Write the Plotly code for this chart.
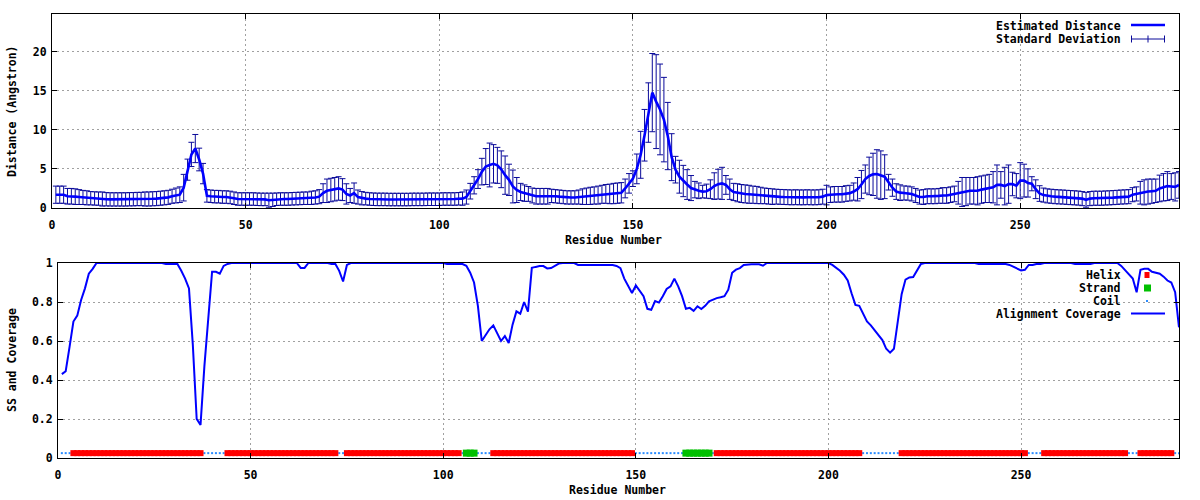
import plotly.graph_objects as go

# ---------------- data ----------------
residues = list(range(1, 292))

distance = [
    1.7, 1.7, 1.7, 1.5, 1.5, 1.45, 1.4, 1.35, 1.3, 1.25,
    1.22, 1.2, 1.15, 1.12, 1.1, 1.1, 1.1, 1.1, 1.1, 1.12,
    1.12, 1.15, 1.15, 1.15, 1.15, 1.18, 1.2, 1.25, 1.3, 1.36,
    1.5, 1.6, 1.7, 2.6, 4.9, 6.85, 7.6, 6.2, 4.4, 1.55,
    1.5, 1.45, 1.45, 1.4, 1.4, 1.35, 1.25, 1.15, 1.15, 1.15,
    1.15, 1.15, 1.12, 1.1, 1.1, 1.0, 1.05, 1.12, 1.15, 1.15,
    1.15, 1.18, 1.2, 1.22, 1.25, 1.25, 1.3, 1.35, 1.45, 1.9,
    2.2, 2.3, 2.4, 2.5, 2.35, 1.8, 1.6, 1.9, 1.4, 1.25,
    1.2, 1.15, 1.12, 1.1, 1.1, 1.1, 1.08, 1.08, 1.08, 1.08,
    1.08, 1.08, 1.1, 1.1, 1.1, 1.1, 1.12, 1.12, 1.12, 1.12,
    1.15, 1.15, 1.15, 1.15, 1.18, 1.2, 1.4, 2.15, 2.9, 3.7,
    4.65, 5.3, 5.5, 5.65, 5.45, 4.95, 4.2, 3.6, 2.75, 2.3,
    2.05, 1.9, 1.8, 1.6, 1.5, 1.5, 1.5, 1.5, 1.55, 1.5,
    1.45, 1.4, 1.35, 1.35, 1.35, 1.4, 1.45, 1.5, 1.55, 1.6,
    1.65, 1.75, 1.8, 1.8, 1.85, 1.9, 1.95, 2.5, 3.15, 3.75,
    5.0, 6.8, 9.3, 12.2, 14.75, 13.6, 12.6, 11.3, 9.2, 6.5,
    4.9, 4.0, 3.45, 3.0, 2.55, 2.35, 2.2, 2.1, 2.15, 2.4,
    2.8, 3.05, 3.15, 2.95, 2.4, 2.05, 1.95, 1.85, 1.8, 1.75,
    1.7, 1.66, 1.6, 1.55, 1.5, 1.45, 1.45, 1.42, 1.4, 1.38,
    1.36, 1.38, 1.36, 1.36, 1.38, 1.36, 1.36, 1.38, 1.45, 1.65,
    1.7, 1.75, 1.75, 1.75, 1.85, 1.9, 2.1, 2.4, 3.0, 3.7,
    4.1, 4.3, 4.35, 4.2, 4.0, 3.3, 2.6, 2.1, 1.96, 1.92,
    1.9, 1.8, 1.6, 1.4, 1.4, 1.5, 1.5, 1.5, 1.55, 1.6,
    1.6, 1.7, 1.8, 1.95, 2.05, 2.1, 2.2, 2.2, 2.2, 2.35,
    2.45, 2.5, 2.65, 2.95, 2.95, 2.8, 3.05, 3.07, 2.85, 3.5,
    3.5, 3.2, 3.1, 2.4, 1.85, 1.65, 1.55, 1.5, 1.45, 1.42,
    1.4, 1.36, 1.33, 1.3, 1.27, 1.2, 1.05, 1.2, 1.25, 1.25,
    1.25, 1.28, 1.3, 1.33, 1.36, 1.4, 1.42, 1.45, 1.7, 1.8,
    1.95, 2.0, 2.1, 2.15, 2.2, 2.5, 2.65, 2.8, 2.75, 2.7, 2.95,
]

std_dev = [
    1.1, 1.1, 1.1, 1.0, 1.0, 1.0, 0.95, 0.9, 0.9, 0.85,
    0.85, 0.85, 0.9, 0.85, 0.85, 0.85, 0.85, 0.85, 0.85, 0.85,
    0.85, 0.85, 0.85, 0.9, 0.9, 0.9, 0.9, 0.9, 0.9, 0.9,
    0.9, 0.95, 1.0, 1.7, 1.35, 1.55, 1.8, 1.45, 1.3, 0.8,
    0.8, 0.8, 0.8, 0.8, 0.8, 0.8, 0.8, 0.8, 0.8, 0.8,
    0.8, 0.8, 0.8, 0.8, 0.8, 0.9, 0.85, 0.8, 0.8, 0.8,
    0.8, 0.8, 0.8, 0.8, 0.8, 0.8, 0.85, 0.85, 0.9, 1.2,
    1.5, 1.5, 1.5, 1.5, 1.4, 1.3, 0.9, 1.3, 0.9, 0.85,
    0.8, 0.8, 0.8, 0.8, 0.8, 0.8, 0.8, 0.8, 0.8, 0.8,
    0.8, 0.8, 0.8, 0.8, 0.8, 0.8, 0.8, 0.8, 0.8, 0.8,
    0.8, 0.8, 0.8, 0.8, 0.8, 0.85, 0.9, 1.0, 1.1, 1.2,
    1.7, 2.3, 2.8, 2.45, 2.3, 2.35, 2.45, 2.0, 2.1, 1.6,
    1.1, 1.05, 0.95, 0.95, 1.0, 1.0, 1.0, 1.0, 0.85, 0.85,
    0.85, 0.85, 0.85, 0.85, 0.85, 0.9, 1.0, 1.05, 1.1, 1.1,
    1.15, 1.15, 1.2, 1.25, 1.3, 1.3, 1.3, 1.2, 1.25, 1.0,
    1.9, 3.0, 3.3, 3.8, 5.0, 6.0, 5.8, 5.4, 4.3, 3.0,
    1.7, 2.1, 2.0, 1.9, 1.6, 1.05, 1.0, 0.8, 0.9, 1.2,
    1.7, 1.9, 2.05, 1.2, 1.3, 1.1, 1.15, 1.15, 1.15, 1.15,
    1.1, 1.1, 1.05, 1.0, 1.0, 1.0, 0.95, 0.95, 0.95, 0.95,
    0.95, 0.95, 0.95, 0.95, 0.95, 0.95, 0.95, 0.95, 0.95, 1.25,
    1.0, 1.0, 1.0, 1.0, 1.0, 1.0, 1.1, 1.5, 1.8, 1.8,
    2.4, 2.7, 3.1, 3.1, 2.8, 1.0, 1.1, 1.0, 1.0, 0.9,
    0.9, 0.9, 0.9, 0.9, 0.95, 0.95, 0.95, 0.95, 0.95, 1.0,
    1.0, 1.0, 1.0, 1.45, 1.85, 1.8, 1.7, 1.7, 1.8, 1.75,
    1.75, 1.8, 2.0, 2.55, 1.7, 2.4, 2.45, 1.5, 1.55, 2.3,
    2.1, 1.8, 0.9, 1.2, 1.0, 0.9, 0.9, 0.9, 0.9, 0.9,
    0.9, 0.9, 0.9, 0.9, 0.9, 0.9, 0.95, 0.9, 0.9, 0.9,
    0.9, 0.9, 0.9, 0.9, 0.9, 0.9, 0.9, 0.9, 0.9, 0.9,
    1.45, 1.6, 1.6, 1.55, 1.5, 1.7, 1.75, 1.85, 1.65, 1.8, 1.7,
]

coverage = [
    0.43, 0.445, 0.57, 0.70, 0.73, 0.81, 0.87, 0.945, 0.97, 1.0,
    1.0, 1.0, 1.0, 1.0, 1.0, 1.0, 1.0, 1.0, 1.0, 1.0,
    1.0, 1.0, 1.0, 1.0, 1.0, 1.0, 1.0, 0.995, 0.995, 0.995,
    0.995, 0.96, 0.92, 0.87, 0.58, 0.2, 0.17, 0.47, 0.73, 0.955,
    0.955, 0.945, 0.985, 0.995, 1.0, 1.0, 1.0, 1.0, 1.0, 1.0,
    1.0, 1.0, 1.0, 1.0, 1.0, 1.0, 1.0, 1.0, 1.0, 1.0,
    1.0, 1.0, 0.975, 0.975, 1.0, 1.0, 1.0, 1.0, 1.0, 1.0,
    0.995, 0.995, 0.96, 0.905, 0.99, 1.0, 1.0, 1.0, 1.0, 1.0,
    1.0, 1.0, 1.0, 1.0, 1.0, 1.0, 1.0, 1.0, 1.0, 1.0,
    1.0, 1.0, 1.0, 1.0, 1.0, 1.0, 1.0, 1.0, 1.0, 1.0,
    0.995, 0.995, 0.995, 0.995, 0.995, 0.986, 0.95, 0.9, 0.78, 0.6,
    0.632, 0.66, 0.68, 0.64, 0.6, 0.625, 0.59, 0.684, 0.752, 0.74,
    0.80, 0.75, 0.975, 0.98, 0.984, 0.984, 0.972, 0.974, 0.986, 0.997,
    1.0, 1.0, 1.0, 1.0, 0.99, 0.99, 0.99, 0.99, 0.99, 0.99,
    0.99, 0.99, 0.993, 0.99, 0.985, 0.974, 0.92, 0.884, 0.846, 0.885,
    0.855, 0.83, 0.765, 0.76, 0.805, 0.797, 0.83, 0.867, 0.88, 0.92,
    0.88, 0.83, 0.765, 0.77, 0.755, 0.778, 0.764, 0.78, 0.803, 0.812,
    0.82, 0.824, 0.83, 0.863, 0.95, 0.966, 0.974, 0.99, 0.993, 0.993,
    0.993, 0.993, 0.986, 1.0, 1.0, 1.0, 1.0, 1.0, 1.0, 1.0,
    1.0, 1.0, 1.0, 1.0, 0.997, 0.997, 1.0, 1.0, 1.0, 1.0,
    0.99, 0.977, 0.96, 0.94, 0.91, 0.845, 0.785, 0.78, 0.74, 0.70,
    0.68, 0.655, 0.625, 0.605, 0.56, 0.54, 0.56, 0.70, 0.84, 0.915,
    0.926, 0.928, 0.96, 0.995, 1.0, 1.0, 1.0, 1.0, 1.0, 1.0,
    1.0, 1.0, 1.0, 1.0, 1.0, 1.0, 1.0, 1.0, 0.995, 0.995,
    0.995, 0.995, 0.995, 0.995, 0.995, 0.995, 0.99, 0.98, 0.968, 0.962,
    0.965, 0.99, 0.99, 0.995, 0.995, 1.0, 1.0, 1.0, 1.0, 1.0,
    1.0, 1.0, 1.0, 0.995, 0.995, 0.995, 0.995, 0.995, 1.0, 1.0,
    1.0, 1.0, 1.0, 1.0, 1.0, 0.985, 0.965, 0.945, 0.92, 0.85,
    0.965, 0.97, 0.97, 0.955, 0.95, 0.945, 0.93, 0.91, 0.90, 0.85, 0.67,
]

# secondary structure per residue (H helix, E strand, C coil)
ss = ("CCC" + "H" * 34 + "C" * 6 + "H" * 29 + "CC" + "H" * 30 + "C" + "EEE"
      + "CCCC" + "H" * 37 + "C" * 13 + "E" * 7 + "C" + "H" * 38 + "C" * 10
      + "H" * 33 + "CCCC" + "H" * 22 + "CCC" + "H" * 9 + "CC")
ss_level = 0.025

x_ticks = [0, 50, 100, 150, 200, 250]
y1_ticks = [0, 5, 10, 15, 20]
y2_ticks = [0, 0.2, 0.4, 0.6, 0.8, 1]
y2_ticktext = ["0", "0.2", "0.4", "0.6", "0.8", "1"]

assert len(distance) == len(residues) == len(std_dev) == len(coverage) == len(ss)

# ---------------- figure ----------------
W, H = 1200, 500
FONT = dict(family="DejaVu Sans Mono", size=11.5, color="black", weight="bold")
BLUE = "#0000ff"
NAVY = "#0a0a9a"
GRID = "#a0a0a0"


def px(x):
    return x / W


def py(y):
    return 1 - y / H


fig = go.Figure()

# error bars (drawn underneath the estimated-distance line)
fig.add_trace(go.Scatter(
    x=residues, y=distance, mode="markers",
    marker=dict(size=1, color="rgba(0,0,0,0)"),
    error_y=dict(type="data", array=std_dev, visible=True, color=NAVY,
                 thickness=1, width=3),
    xaxis="x", yaxis="y", showlegend=False, hoverinfo="skip"))
fig.add_trace(go.Scatter(
    x=residues, y=distance, mode="lines", line=dict(color=BLUE, width=2.6),
    xaxis="x", yaxis="y", showlegend=False))

# secondary structure
coil_x = [r for r, s in zip(residues, ss) if s == "C"]
helix_x = [r for r, s in zip(residues, ss) if s == "H"]
strand_x = [r for r, s in zip(residues, ss) if s == "E"]
fig.add_trace(go.Scatter(
    x=coil_x, y=[ss_level] * len(coil_x), mode="markers",
    marker=dict(symbol="square", size=2, color="#2a8cff", line=dict(width=0)),
    xaxis="x2", yaxis="y2", showlegend=False))
fig.add_trace(go.Scatter(
    x=helix_x, y=[ss_level] * len(helix_x), mode="markers",
    marker=dict(symbol="square", size=6, color="#ff0000", line=dict(width=0)),
    xaxis="x2", yaxis="y2", showlegend=False))
fig.add_trace(go.Scatter(
    x=strand_x, y=[ss_level] * len(strand_x), mode="markers",
    marker=dict(symbol="square", size=7, color="#00c000", line=dict(width=0)),
    xaxis="x2", yaxis="y2", showlegend=False))

# alignment coverage
fig.add_trace(go.Scatter(
    x=residues, y=coverage, mode="lines", line=dict(color=BLUE, width=2),
    xaxis="x2", yaxis="y2", showlegend=False))

axis_common = dict(
    showline=True, linecolor="black", linewidth=1, mirror="allticks",
    ticks="inside", ticklen=5, tickcolor="black", tickwidth=1,
    showgrid=True, gridcolor=GRID, griddash="2px,3px", gridwidth=1,
    zeroline=False, automargin=False, tickfont=FONT,
)

fig.update_layout(
    width=W, height=H,
    margin=dict(l=0, r=0, t=0, b=0),
    paper_bgcolor="white", plot_bgcolor="white",
    showlegend=False,
    xaxis=dict(domain=[px(52), px(1179)], range=[0, 291], anchor="y",
               tickvals=x_ticks, ticklabelstandoff=6, **axis_common),
    yaxis=dict(domain=[py(208), py(14)], range=[0, 24.8], anchor="x",
               tickvals=y1_ticks, ticklabelstandoff=2, **axis_common),
    xaxis2=dict(domain=[px(58), px(1179)], range=[0, 291], anchor="y2",
                tickvals=x_ticks, ticklabelstandoff=6, **axis_common),
    yaxis2=dict(domain=[py(458), py(263)], range=[0, 1], anchor="x2",
                tickvals=y2_ticks, ticktext=y2_ticktext, ticklabelstandoff=2,
                **axis_common),
)

shapes = []
annotations = []

# legend backgrounds (cover the grid, not the data)
shapes.append(dict(type="rect", xref="paper", yref="paper", layer="between",
                   x0=px(992), x1=px(1172), y0=py(47), y1=py(16),
                   fillcolor="white", line=dict(width=0)))
shapes.append(dict(type="rect", xref="paper", yref="paper", layer="between",
                   x0=px(992), x1=px(1172), y0=py(321), y1=py(265),
                   fillcolor="white", line=dict(width=0)))


def legend_text(text, y):
    annotations.append(dict(text=text, xref="paper", yref="paper",
                            x=px(1123), y=py(y), xanchor="right", yanchor="middle",
                            showarrow=False, font=FONT))


def hline(x0, x1, y, color, width):
    shapes.append(dict(type="line", xref="paper", yref="paper",
                       x0=px(x0), x1=px(x1), y0=py(y), y1=py(y),
                       line=dict(color=color, width=width)))


def vline(x, y0, y1, color, width):
    shapes.append(dict(type="line", xref="paper", yref="paper",
                       x0=px(x), x1=px(x), y0=py(y0), y1=py(y1),
                       line=dict(color=color, width=width)))


def box(xc, yc, w, h, color):
    shapes.append(dict(type="rect", xref="paper", yref="paper",
                       x0=px(xc - w / 2), x1=px(xc + w / 2),
                       y0=py(yc + h / 2), y1=py(yc - h / 2),
                       fillcolor=color, line=dict(width=0)))


# top legend
legend_text("Estimated Distance", 26)
hline(1131, 1165, 25, BLUE, 2.6)
legend_text("Standard Deviation", 39)
hline(1131, 1165, 39, NAVY, 1)
vline(1131.5, 35.5, 42.5, NAVY, 1)
vline(1164.5, 35.5, 42.5, NAVY, 1)
vline(1148, 35.5, 42.5, NAVY, 1)

# bottom legend
legend_text("Helix", 275)
box(1147, 275, 5, 6, "#ff0000")
legend_text("Strand", 288)
box(1147.5, 288, 7, 7, "#00c000")
legend_text("Coil", 301)
box(1147, 301, 2, 2, "#2a8cff")
legend_text("Alignment Coverage", 314)
hline(1131, 1165, 313.5, BLUE, 2)

# axis titles
annotations.append(dict(text="Residue Number", xref="paper", yref="paper",
                        x=px(613), y=py(240), xanchor="center", yanchor="middle",
                        showarrow=False, font=FONT))
annotations.append(dict(text="Residue Number", xref="paper", yref="paper",
                        x=px(617), y=py(490), xanchor="center", yanchor="middle",
                        showarrow=False, font=FONT))
annotations.append(dict(text="Distance (Angstron)", xref="paper", yref="paper",
                        x=px(12), y=py(111), xanchor="center", yanchor="middle",
                        textangle=-90, showarrow=False, font=FONT))
annotations.append(dict(text="SS and Coverage", xref="paper", yref="paper",
                        x=px(12), y=py(360), xanchor="center", yanchor="middle",
                        textangle=-90, showarrow=False, font=FONT))

fig.update_layout(shapes=shapes, annotations=annotations)

fig.write_html(
    "out.html",
    config={"displayModeBar": False},
    post_script="document.body.style.margin='0';document.body.style.overflow='hidden';",
)
